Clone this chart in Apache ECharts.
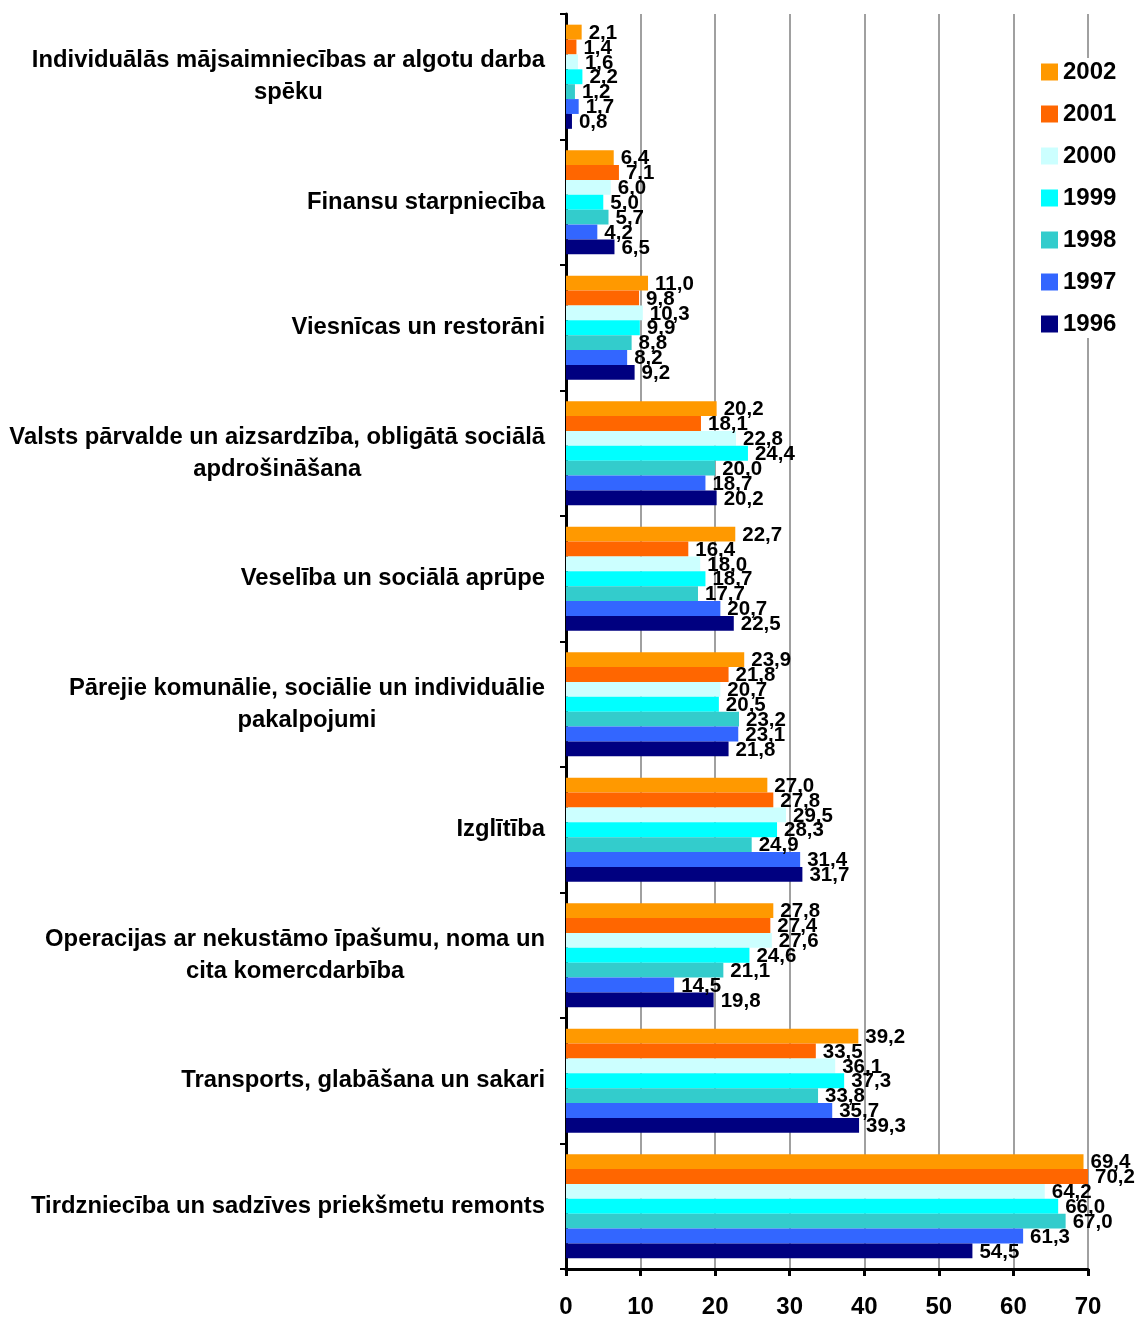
<!DOCTYPE html>
<html>
<head>
<meta charset="utf-8">
<script src="https://cdn.jsdelivr.net/npm/echarts@6/dist/echarts.min.js"></script>
<style>html,body{margin:0;padding:0;background:#fff;}#c{width:1136px;height:1319px;}</style>
</head>
<body>
<div id="c"></div>
<script>
const categories = [
  "Individuālās mājsaimniecības ar algotu darba\nspēku",
  "Finansu starpniecība",
  "Viesnīcas un restorāni",
  "Valsts pārvalde un aizsardzība, obligātā sociālā\napdrošināšana",
  "Veselība un sociālā aprūpe",
  "Pārejie komunālie, sociālie un individuālie\npakalpojumi",
  "Izglītība",
  "Operacijas ar nekustāmo īpašumu, noma un\ncita komercdarbība",
  "Transports, glabāšana un sakari",
  "Tirdzniecība un sadzīves priekšmetu remonts"
];
const years = ["2002","2001","2000","1999","1998","1997","1996"];
const v2002 = [2.1, 6.4, 11.0, 20.2, 22.7, 23.9, 27.0, 27.8, 39.2, 69.4];
const v2001 = [1.4, 7.1, 9.8, 18.1, 16.4, 21.8, 27.8, 27.4, 33.5, 70.2];
const v2000 = [1.6, 6.0, 10.3, 22.8, 18.0, 20.7, 29.5, 27.6, 36.1, 64.2];
const v1999 = [2.2, 5.0, 9.9, 24.4, 18.7, 20.5, 28.3, 24.6, 37.3, 66.0];
const v1998 = [1.2, 5.7, 8.8, 20.0, 17.7, 23.2, 24.9, 21.1, 33.8, 67.0];
const v1997 = [1.7, 4.2, 8.2, 18.7, 20.7, 23.1, 31.4, 14.5, 35.7, 61.3];
const v1996 = [0.8, 6.5, 9.2, 20.2, 22.5, 21.8, 31.7, 19.8, 39.3, 54.5];
const xTicks = [0, 10, 20, 30, 40, 50, 60, 70];

const values = [v2002, v2001, v2000, v1999, v1998, v1997, v1996];
const colors = ["#FF9900","#FF6600","#CCFFFF","#00FFFF","#33CCCC","#3366FF","#000080"];
const FONT = "'Liberation Sans', Arial, sans-serif";

const chart = echarts.init(document.getElementById('c'), null, {renderer: 'canvas'});
const series = years.map((y, i) => ({
  name: y,
  type: 'bar',
  data: values[i],
  itemStyle: {color: colors[i]},
  barGap: '0%',
  barCategoryGap: '17%',
  label: {
    show: true,
    position: 'right',
    distance: 7,
    offset: [0, 1],
    color: '#000',
    fontFamily: FONT,
    fontWeight: 'bold',
    fontSize: 20.5,
    formatter: p => p.value.toFixed(1).replace('.', ',')
  }
}));

chart.setOption({
  animation: false,
  backgroundColor: '#fff',
  color: colors,
  grid: {left: 566, right: 48, top: 14, bottom: 47, containLabel: false},
  legend: {
    data: years,
    orient: 'vertical',
    left: 1037,
    top: 58,
    itemWidth: 17,
    itemHeight: 17,
    itemGap: 18,
    backgroundColor: '#fff',
    padding: [2, 4, 2, 4],
    textStyle: {fontFamily: FONT, fontWeight: 'bold', fontSize: 24, color: '#000'},
    icon: 'rect'
  },
  xAxis: {
    type: 'value',
    min: 0, max: 70, interval: 10,
    axisLine: {show: true, lineStyle: {color: '#000', width: 3}},
    axisTick: {show: true, length: 7, lineStyle: {color: '#000', width: 3}},
    axisLabel: {
      fontFamily: FONT, fontWeight: 'bold', fontSize: 24, color: '#000', margin: 26,
      formatter: v => xTicks.includes(v) ? String(v) : ''
    },
    splitLine: {show: true, lineStyle: {color: '#808080', width: 1.5}}
  },
  yAxis: {
    type: 'category',
    inverse: true,
    data: categories,
    axisLine: {show: true, lineStyle: {color: '#000', width: 3}},
    axisTick: {show: true, length: 6, lineStyle: {color: '#000', width: 2}},
    axisLabel: {
      margin: 21,
      align: 'right',
      formatter: s => s.split('\n').map(l => '{c|' + l + '}').join('\n'),
      rich: {
        c: {align: 'center', fontFamily: FONT, fontWeight: 'bold', fontSize: 23.8, lineHeight: 32, color: '#000'}
      }
    }
  },
  series: series
});
</script>
</body>
</html>
